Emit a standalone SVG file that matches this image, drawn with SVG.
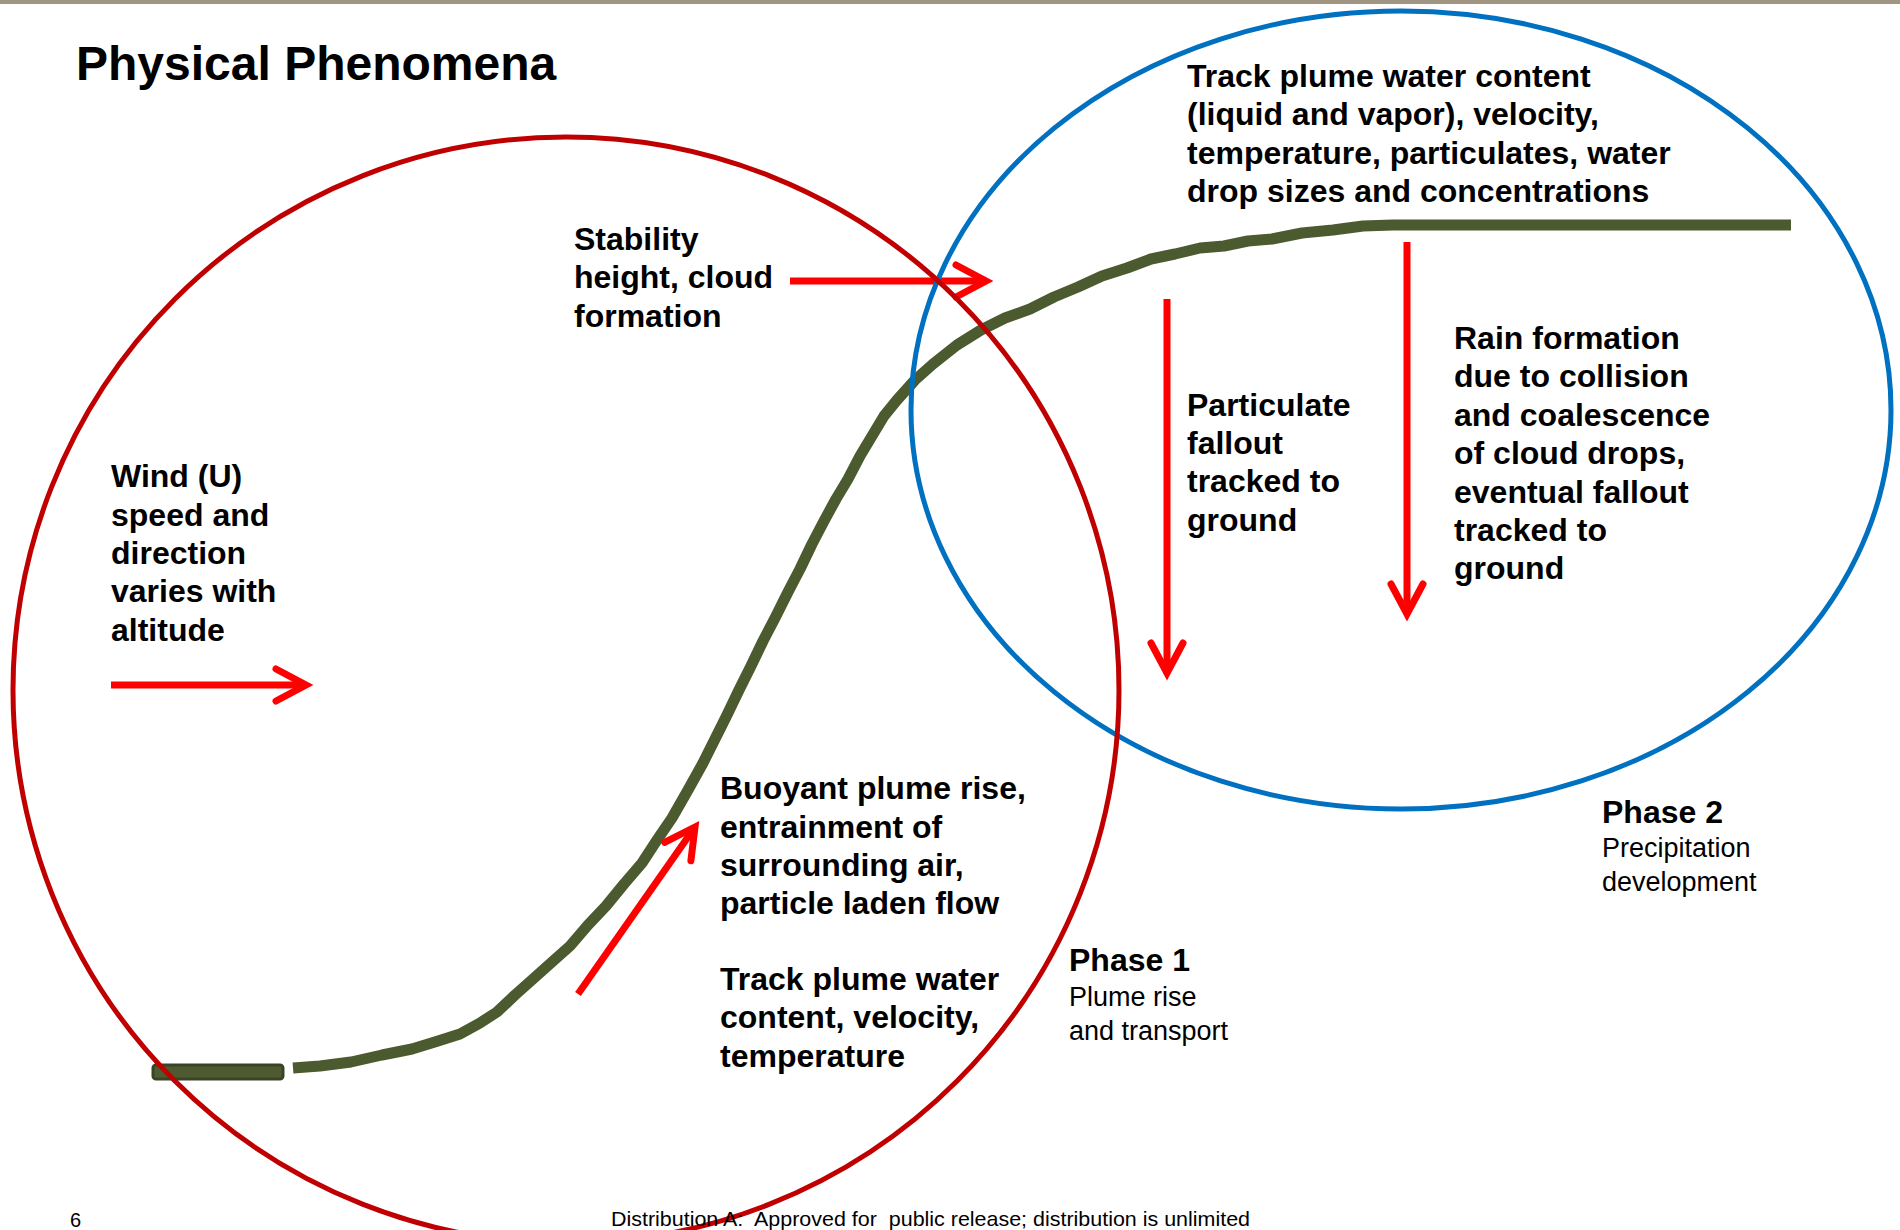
<svg xmlns="http://www.w3.org/2000/svg" width="1900" height="1230" viewBox="0 0 1900 1230">
<defs>
<style>
.t{font-family:"Liberation Sans",Arial,sans-serif;font-weight:bold;font-size:32px;fill:#000}
.r{font-family:"Liberation Sans",Arial,sans-serif;font-size:27px;fill:#000}
.arrow{stroke:#FF0000;stroke-width:7;fill:none;marker-end:url(#chev)}
</style>
<marker id="chev" markerUnits="userSpaceOnUse" orient="auto" overflow="visible" markerWidth="1" markerHeight="1" refX="0" refY="0">
<path d="M-30,-16 L0,0 L-30,16" fill="none" stroke="#FF0000" stroke-width="7" stroke-linecap="round" stroke-linejoin="miter"/>
</marker>
</defs>
<rect x="0" y="0" width="1900" height="1230" fill="#FFFFFF"/>
<rect x="0" y="0" width="1900" height="4" fill="#A09582"/>
<text x="76" y="80" font-family="Liberation Sans, Arial, sans-serif" font-weight="bold" font-size="48">Physical Phenomena</text>

<g id="plume">
<rect x="153" y="1065" width="130" height="14" rx="3" fill="#4E5B32" stroke="#3A4425" stroke-width="3"/>
<polyline fill="none" stroke="#4B5A2F" stroke-width="11" stroke-linejoin="round" points="293,1068 320,1066 351,1062 382,1055 412,1049 438,1041 460,1034 480,1023 497,1012 515,995 533,979 552,962 570,946 588,925 606,906 624,884 642,863 657,840 672,818 688,790 703,763 715,739 727,715 739,690 751,666 763,641 775,618 788,592 800,569 812,544 824,521 836,499 848,479 860,456 872,436 884,416 897,400 915,380 933,364 957,345 981,330 1005,318 1030,309 1054,297 1078,287 1102,276 1127,268 1151,259 1175,254 1200,248 1224,246 1248,241 1272,239 1302,233 1333,230 1363,226 1393,225 1791,225"/>
</g>

<g id="connectors">
<line class="arrow" x1="111" y1="685" x2="306" y2="685"/>
<line class="arrow" x1="790" y1="281" x2="986" y2="281"/>
<line class="arrow" x1="578" y1="994" x2="695" y2="827"/>
<line class="arrow" x1="1167" y1="299" x2="1167" y2="673"/>
<line class="arrow" x1="1407" y1="242" x2="1407" y2="614"/>
</g>

<g id="phase2-ellipse">
<ellipse cx="1401" cy="410" rx="490" ry="399" fill="none" stroke="#0070C0" stroke-width="5"/>
</g>
<g id="phase1-circle">
<circle cx="566" cy="690" r="553" fill="none" stroke="#C00000" stroke-width="5"/>
</g>

<g id="track-top">
<text class="t" x="1187" y="87">Track plume water content</text>
<text class="t" x="1187" y="125">(liquid and vapor), velocity,</text>
<text class="t" x="1187" y="164">temperature, particulates, water</text>
<text class="t" x="1187" y="202">drop sizes and concentrations</text>
</g>
<g id="stability">
<text class="t" x="574" y="250">Stability</text>
<text class="t" x="574" y="288">height, cloud</text>
<text class="t" x="574" y="327">formation</text>
</g>
<g id="wind">
<text class="t" x="111" y="487">Wind (U)</text>
<text class="t" x="111" y="526">speed and</text>
<text class="t" x="111" y="564">direction</text>
<text class="t" x="111" y="602">varies with</text>
<text class="t" x="111" y="641">altitude</text>
</g>
<g id="particulate">
<text class="t" x="1187" y="416">Particulate</text>
<text class="t" x="1187" y="454">fallout</text>
<text class="t" x="1187" y="492">tracked to</text>
<text class="t" x="1187" y="531">ground</text>
</g>
<g id="rain">
<text class="t" x="1454" y="349">Rain formation</text>
<text class="t" x="1454" y="387">due to collision</text>
<text class="t" x="1454" y="426">and coalescence</text>
<text class="t" x="1454" y="464">of cloud drops,</text>
<text class="t" x="1454" y="503">eventual fallout</text>
<text class="t" x="1454" y="541">tracked to</text>
<text class="t" x="1454" y="579">ground</text>
</g>
<g id="buoyant">
<text class="t" x="720" y="799">Buoyant plume rise,</text>
<text class="t" x="720" y="838">entrainment of</text>
<text class="t" x="720" y="876">surrounding air,</text>
<text class="t" x="720" y="914">particle laden flow</text>
</g>
<g id="track-lower">
<text class="t" x="720" y="990">Track plume water</text>
<text class="t" x="720" y="1028">content, velocity,</text>
<text class="t" x="720" y="1067">temperature</text>
</g>
<g id="phase1">
<text class="t" x="1069" y="971" font-size="31">Phase 1</text>
<text class="r" x="1069" y="1006">Plume rise</text>
<text class="r" x="1069" y="1040">and transport</text>
</g>
<g id="phase2">
<text class="t" x="1602" y="823" font-size="31">Phase 2</text>
<text class="r" x="1602" y="857">Precipitation</text>
<text class="r" x="1602" y="891">development</text>
</g>
<g id="footer">
<text x="70" y="1227" font-family="Liberation Sans, Arial, sans-serif" font-size="20">6</text>
<text x="611" y="1226" font-family="Liberation Sans, Arial, sans-serif" font-size="21" textLength="639" lengthAdjust="spacingAndGlyphs" xml:space="preserve">Distribution A:  Approved for  public release; distribution is unlimited</text>
</g>
</svg>
